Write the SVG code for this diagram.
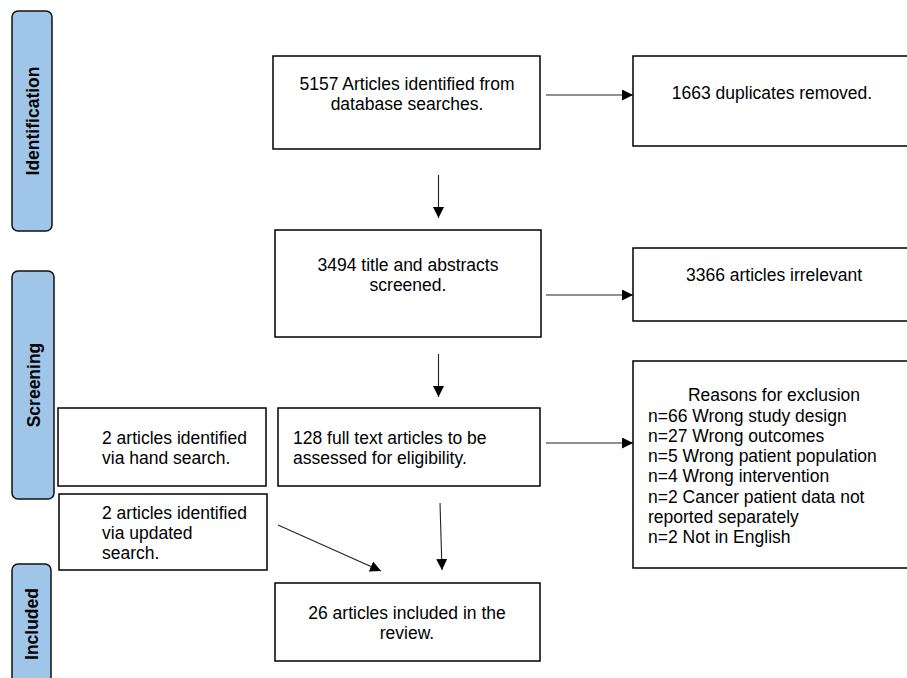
<svg xmlns="http://www.w3.org/2000/svg" width="907" height="678" viewBox="0 0 907 678">
<defs>
<style>
.box{fill:#fff;stroke:#000;stroke-width:1.5}
.bar{fill:#9fc5e8;stroke:#111;stroke-width:1.5}
.t{font-family:"Liberation Sans",Arial,sans-serif;font-size:17.5px;fill:#000}
.c{text-anchor:middle}
.b{font-weight:bold;text-anchor:middle}
.ln{stroke:#222;stroke-width:1.1;fill:none;marker-end:url(#ah)}
</style>
<marker id="ah" viewBox="0 0 10 10" refX="10" refY="5" markerWidth="11" markerHeight="11" markerUnits="userSpaceOnUse" orient="auto">
<path d="M0,0 L10,5 L0,10 Z" fill="#000"/>
</marker>
</defs>
<g id="bar-identification">
<rect class="bar" x="12" y="11" width="40" height="220" rx="6"/>
<text class="t b" transform="translate(38.5,121) rotate(-90)">Identification</text>
</g>
<g id="bar-screening">
<rect class="bar" x="12" y="271" width="42" height="228" rx="6"/>
<text class="t b" transform="translate(39.5,385) rotate(-90)">Screening</text>
</g>
<g id="bar-included">
<rect class="bar" x="12" y="564" width="39" height="122" rx="6"/>
<text class="t b" transform="translate(37.5,624) rotate(-90)">Included</text>
</g>
<g id="n-identified">
<rect class="box" x="273" y="56" width="267" height="93"/>
<text class="t c" x="407" y="90">5157 Articles identified from</text>
<text class="t c" x="407" y="110">database searches.</text>
</g>
<g id="n-duplicates">
<rect class="box" x="633" y="56" width="290" height="90"/>
<text class="t c" x="772" y="99">1663 duplicates removed.</text>
</g>
<g id="n-screened">
<rect class="box" x="275" y="230" width="266" height="107"/>
<text class="t c" x="408" y="271">3494 title and abstracts</text>
<text class="t c" x="408" y="291">screened.</text>
</g>
<g id="n-irrelevant">
<rect class="box" x="633" y="248" width="290" height="73"/>
<text class="t c" x="774" y="281">3366 articles irrelevant</text>
</g>
<g id="n-hand">
<rect class="box" x="58" y="408" width="208" height="78"/>
<text class="t" x="102" y="444">2 articles identified</text>
<text class="t" x="102" y="464">via hand search.</text>
</g>
<g id="n-fulltext">
<rect class="box" x="278" y="408" width="262" height="78"/>
<text class="t" x="293" y="444">128 full text articles to be</text>
<text class="t" x="293" y="464">assessed for eligibility.</text>
</g>
<g id="n-updated">
<rect class="box" x="59" y="494" width="208" height="76"/>
<text class="t" x="102" y="519">2 articles identified</text>
<text class="t" x="102" y="539">via updated</text>
<text class="t" x="102" y="559">search.</text>
</g>
<g id="n-exclusion">
<rect class="box" x="633" y="361" width="290" height="207"/>
<text class="t c" x="774" y="401">Reasons for exclusion</text>
<text class="t" x="648" y="421.5">n=66 Wrong study design</text>
<text class="t" x="648" y="442">n=27 Wrong outcomes</text>
<text class="t" x="648" y="462">n=5 Wrong patient population</text>
<text class="t" x="648" y="482">n=4 Wrong intervention</text>
<text class="t" x="648" y="502.5">n=2 Cancer patient data not</text>
<text class="t" x="648" y="523">reported separately</text>
<text class="t" x="648" y="543">n=2 Not in English</text>
</g>
<g id="n-included">
<rect class="box" x="275" y="583" width="265" height="78"/>
<text class="t c" x="407" y="619">26 articles included in the</text>
<text class="t c" x="407" y="639">review.</text>
</g>
<g id="connectors">
<line class="ln" x1="546" y1="95" x2="633" y2="95"/>
<line class="ln" x1="438.5" y1="175" x2="438.5" y2="218"/>
<line class="ln" x1="546" y1="295" x2="633" y2="295"/>
<line class="ln" x1="438.5" y1="354" x2="438.5" y2="397"/>
<line class="ln" x1="546" y1="443" x2="633" y2="443"/>
<line class="ln" x1="440" y1="503" x2="442" y2="570"/>
<line class="ln" x1="278" y1="525" x2="381" y2="571"/>
</g>
</svg>
